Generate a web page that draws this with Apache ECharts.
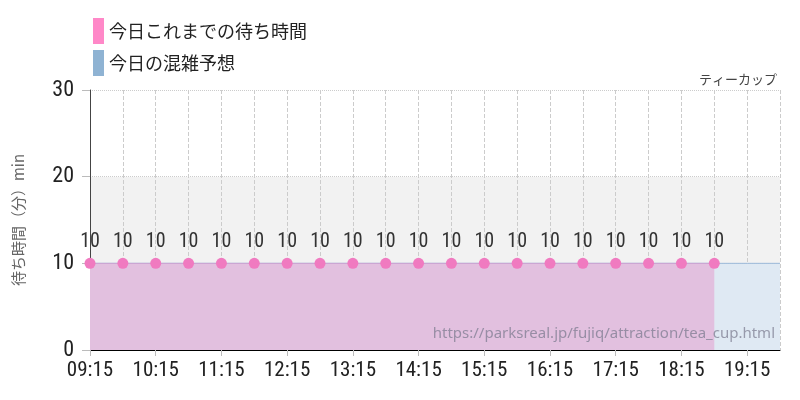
<!DOCTYPE html><html><head><meta charset="utf-8"><script src="https://cdn.jsdelivr.net/npm/echarts@6/dist/echarts.min.js"></script></head><body style="margin:0"><div id="c" style="width:800px;height:400px"></div><script>
var categories=['09:15','09:45','10:15','10:45','11:15','11:45','12:15','12:45','13:15','13:45','14:15','14:45','15:15','15:45','16:15','16:45','17:15','17:45','18:15','18:45','19:15','19:45'];
var waitTimes=[10,10,10,10,10,10,10,10,10,10,10,10,10,10,10,10,10,10,10,10];
var forecast=[10,10,10,10,10,10,10,10,10,10,10,10,10,10,10,10,10,10,10,10,10,10];
var yTicks=[0,10,20,30];
var cond='"Liberation Sans Narrow","Roboto Condensed","DejaVu Sans Condensed",sans-serif';
var jp='"Noto Sans CJK JP",sans-serif';
var ch=echarts.init(document.getElementById('c'));
ch.setOption({
 animation:false,
 legend:{orient:'vertical',left:88,top:13,itemWidth:11,itemHeight:26,itemGap:6,icon:'rect',textStyle:{fontFamily:jp,fontSize:18,color:'#222'},data:[{name:'今日これまでの待ち時間',itemStyle:{color:'#ff88c8'}},{name:'今日の混雑予想',itemStyle:{color:'#8fb3d3'}}]},
 title:{text:'ティーカップ',right:18,top:68,textStyle:{fontFamily:jp,fontSize:13,fontWeight:'normal',color:'#444'}},
 grid:{left:90,right:20,top:90,bottom:50},
 graphic:[{type:'text',right:25,top:326,style:{text:'https://parksreal.jp/fujiq/attraction/tea_cup.html',fill:'rgba(120,120,140,0.7)',font:'15px "Noto Sans",sans-serif'},z:100}],
 xAxis:{type:'category',data:categories,boundaryGap:false,
  axisLine:{lineStyle:{color:'#000',width:1}},
  axisTick:{show:true,interval:1,length:6,lineStyle:{color:'#bbb'}},
  axisLabel:{interval:1,fontFamily:cond,fontSize:21,color:'#222',margin:10},
  splitLine:{show:true,interval:0,lineStyle:{type:'dashed',color:'#ccc'}}},
 yAxis:{type:'value',min:0,max:30,interval:10,
  name:'待ち時間（分）min',nameLocation:'middle',nameGap:64,nameTextStyle:{fontFamily:jp,fontSize:15,color:'#666'},
  axisLine:{show:true,lineStyle:{color:'#444'}},axisTick:{show:true,length:8,lineStyle:{color:'#bbb'}},
  axisLabel:{fontFamily:cond,fontSize:22,color:'#222',margin:16,formatter:function(v){return yTicks.indexOf(v)>=0?v:'';}},
  splitLine:{show:true,lineStyle:{type:'dotted',color:'#ccc'}},
  splitArea:{show:true,areaStyle:{color:['#fff','#f2f2f2']}}},
 series:[
  {name:'今日の混雑予想',type:'line',data:forecast,symbol:'none',itemStyle:{color:'#8fb3d3'},lineStyle:{color:'#9ab8d8',width:1},areaStyle:{color:'#dfe9f3',opacity:1},z:1},
  {name:'今日これまでの待ち時間',type:'line',data:waitTimes,symbol:'circle',symbolSize:11,itemStyle:{color:'#f07ac0'},lineStyle:{color:'#c9a0d0',width:1},areaStyle:{color:'#e2c0df',opacity:1},
   label:{show:true,position:'top',distance:6,fontFamily:cond,fontSize:20,color:'#333'},z:2}
 ]
});
</script></body></html>
